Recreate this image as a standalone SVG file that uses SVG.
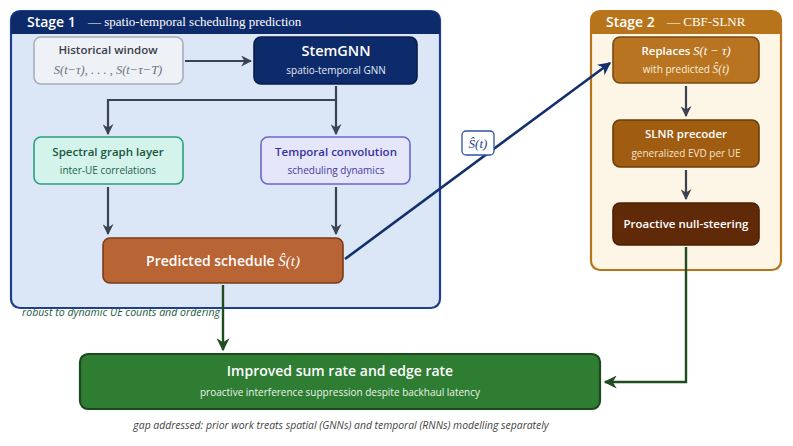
<svg xmlns="http://www.w3.org/2000/svg" width="793" height="446" viewBox="0 0 793 446">
<defs>
<style>
.sans{font-family:"Open Sans","DejaVu Sans",sans-serif;}
.serif{font-family:"Liberation Serif","DejaVu Serif",serif;}
.math{font-family:"Liberation Serif","DejaVu Serif",serif;font-style:italic;}
.node{stroke-width:1.6;}
.title{font-weight:600;font-size:11.5px;}
.sub{font-size:10px;}
.gray{stroke:#3b4252;stroke-width:2.2;fill:none;}
.blue{stroke:#13306e;stroke-width:2.6;fill:none;}
.green{stroke:#1f4d20;stroke-width:2.4;fill:none;}
</style>
<marker id="ag" viewBox="0 0 10 10" refX="9" refY="5" markerWidth="11" markerHeight="11" orient="auto" markerUnits="userSpaceOnUse">
<path d="M0,0 L10,5 L0,10 L3,5 z" fill="#3b4252"/>
</marker>
<marker id="ab" viewBox="0 0 10 10" refX="9" refY="5" markerWidth="13" markerHeight="13" orient="auto" markerUnits="userSpaceOnUse">
<path d="M0,0 L10,5 L0,10 L3,5 z" fill="#13306e"/>
</marker>
<marker id="agr" viewBox="0 0 10 10" refX="9" refY="5" markerWidth="13" markerHeight="13" orient="auto" markerUnits="userSpaceOnUse">
<path d="M0,0 L10,5 L0,10 L3,5 z" fill="#1f4d20"/>
</marker>
</defs>
<rect width="793" height="446" fill="#ffffff"/>

<g id="stage1">
<rect x="11" y="11" width="429" height="297" rx="9" fill="#dbe6f6" stroke="#1d3f8e" stroke-width="2.2"/>
<path d="M11,34 V20 a9,9 0 0 1 9,-9 H431 a9,9 0 0 1 9,9 V34 z" fill="#0d2a6b"/>
<text x="27" y="27" class="sans" font-weight="600" font-size="14" fill="#ffffff">Stage 1</text>
<text x="88" y="26" class="serif" font-size="13" fill="#ffffff">— spatio-temporal scheduling prediction</text>
</g>

<g id="stage2">
<rect x="591" y="11" width="190" height="259" rx="9" fill="#fdf6e6" stroke="#b8741a" stroke-width="2.2"/>
<path d="M591,34 V20 a9,9 0 0 1 9,-9 H772 a9,9 0 0 1 9,9 V34 z" fill="#b8741a"/>
<text x="606" y="27" class="sans" font-weight="600" font-size="14" fill="#ffffff">Stage 2</text>
<text x="667" y="26" class="serif" font-size="13" fill="#ffffff">— CBF-SLNR</text>
</g>

<g id="connectors">
<line x1="185" y1="61" x2="251" y2="61" class="gray" marker-end="url(#ag)"/>
<polyline points="336,86 336,100 108,100 108,134" class="gray" marker-end="url(#ag)"/>
<line x1="336" y1="100" x2="336" y2="134" class="gray" marker-end="url(#ag)"/>
<line x1="108" y1="187" x2="108" y2="234" class="gray" marker-end="url(#ag)"/>
<line x1="336" y1="187" x2="336" y2="234" class="gray" marker-end="url(#ag)"/>
<line x1="345" y1="259" x2="610" y2="63" class="blue" marker-end="url(#ab)"/>
<line x1="686" y1="86" x2="686" y2="116" class="gray" marker-end="url(#ag)"/>
<line x1="686" y1="170" x2="686" y2="199" class="gray" marker-end="url(#ag)"/>
<line x1="223" y1="285" x2="223" y2="350" class="green" marker-end="url(#agr)"/>
<polyline points="686,247 686,382 605,382" class="green" marker-end="url(#agr)"/>
<rect x="462" y="131" width="32" height="24" rx="4" fill="#ffffff" stroke="#2a55a5" stroke-width="1.3"/>
<text x="478" y="148" class="math" font-size="13" fill="#1d3f8e" text-anchor="middle">Ŝ(t)</text>
</g>

<g id="historical">
<rect x="34" y="37" width="149" height="47" rx="7" fill="#eef1f6" stroke="#a7aebb" class="node"/>
<text x="108" y="54" class="sans title" fill="#3a3f4a" text-anchor="middle">Historical window</text>
<text x="108" y="74" class="math" font-size="12.5" fill="#6d7280" text-anchor="middle">S(t−τ),  . . . ,  S(t−τ−T)</text>
</g>

<g id="stemgnn">
<rect x="254" y="37" width="163" height="47" rx="7" fill="#0d2a6b" stroke="#091d4c" class="node"/>
<text x="336" y="56" class="sans" font-weight="600" font-size="14.5" fill="#ffffff" text-anchor="middle">StemGNN</text>
<text x="336" y="74" class="sans sub" fill="#e4e9f5" text-anchor="middle">spatio-temporal GNN</text>
</g>

<g id="spectral">
<rect x="34" y="137" width="149" height="47" rx="7" fill="#d4f3ea" stroke="#2e9e7e" class="node"/>
<text x="108" y="156" class="sans title" fill="#18573f" text-anchor="middle">Spectral graph layer</text>
<text x="108" y="174" class="sans sub" fill="#22604a" text-anchor="middle">inter-UE correlations</text>
</g>

<g id="temporal">
<rect x="261" y="137" width="149" height="47" rx="7" fill="#e6e6fb" stroke="#6a66d0" class="node"/>
<text x="336" y="156" class="sans title" fill="#37339a" text-anchor="middle">Temporal convolution</text>
<text x="336" y="174" class="sans sub" fill="#3f3b9c" text-anchor="middle">scheduling dynamics</text>
</g>

<g id="predicted">
<rect x="103" y="238" width="240" height="45" rx="7" fill="#b96434" stroke="#7a3b18" class="node"/>
<text x="223" y="266" class="sans" font-weight="600" font-size="14" fill="#ffffff" text-anchor="middle">Predicted schedule <tspan class="math" font-weight="normal" font-size="15">Ŝ(t)</tspan></text>
</g>

<g id="replaces">
<rect x="613" y="37" width="146" height="46" rx="7" fill="#b87420" stroke="#7a4a10" class="node"/>
<text x="686" y="55" class="sans title" fill="#ffffff" text-anchor="middle">Replaces <tspan class="math" font-weight="normal" font-size="12.5">S(t − τ)</tspan></text>
<text x="686" y="73" class="sans sub" fill="#fbeedd" text-anchor="middle">with predicted <tspan class="math" font-size="11.5">Ŝ(t)</tspan></text>
</g>

<g id="slnr">
<rect x="613" y="120" width="146" height="47" rx="7" fill="#a05c10" stroke="#6a3c08" class="node"/>
<text x="686" y="138" class="sans title" fill="#ffffff" text-anchor="middle">SLNR precoder</text>
<text x="686" y="157" class="sans sub" fill="#f6e6cf" text-anchor="middle">generalized EVD per UE</text>
</g>

<g id="nullsteer">
<rect x="613" y="203" width="146" height="42" rx="7" fill="#602a08" stroke="#4a2006" class="node"/>
<text x="686" y="228" class="sans title" fill="#ffffff" text-anchor="middle">Proactive null-steering</text>
</g>

<g id="improved">
<rect x="80" y="354" width="520" height="55" rx="8" fill="#2e7d32" stroke="#1b4a1c" stroke-width="2.2"/>
<text x="340" y="376" class="sans" font-weight="600" font-size="14" fill="#ffffff" text-anchor="middle">Improved sum rate and edge rate</text>
<text x="340" y="396" class="sans sub" fill="#eaf5ea" text-anchor="middle">proactive interference suppression despite backhaul latency</text>
</g>

<text x="22" y="316" class="sans" font-style="italic" font-size="10.6" fill="#1e5a42">robust to dynamic UE counts and ordering</text>
<text x="341" y="429" class="sans" font-style="italic" font-size="10.4" fill="#444444" text-anchor="middle">gap addressed: prior work treats spatial (GNNs) and temporal (RNNs) modelling separately</text>
</svg>
